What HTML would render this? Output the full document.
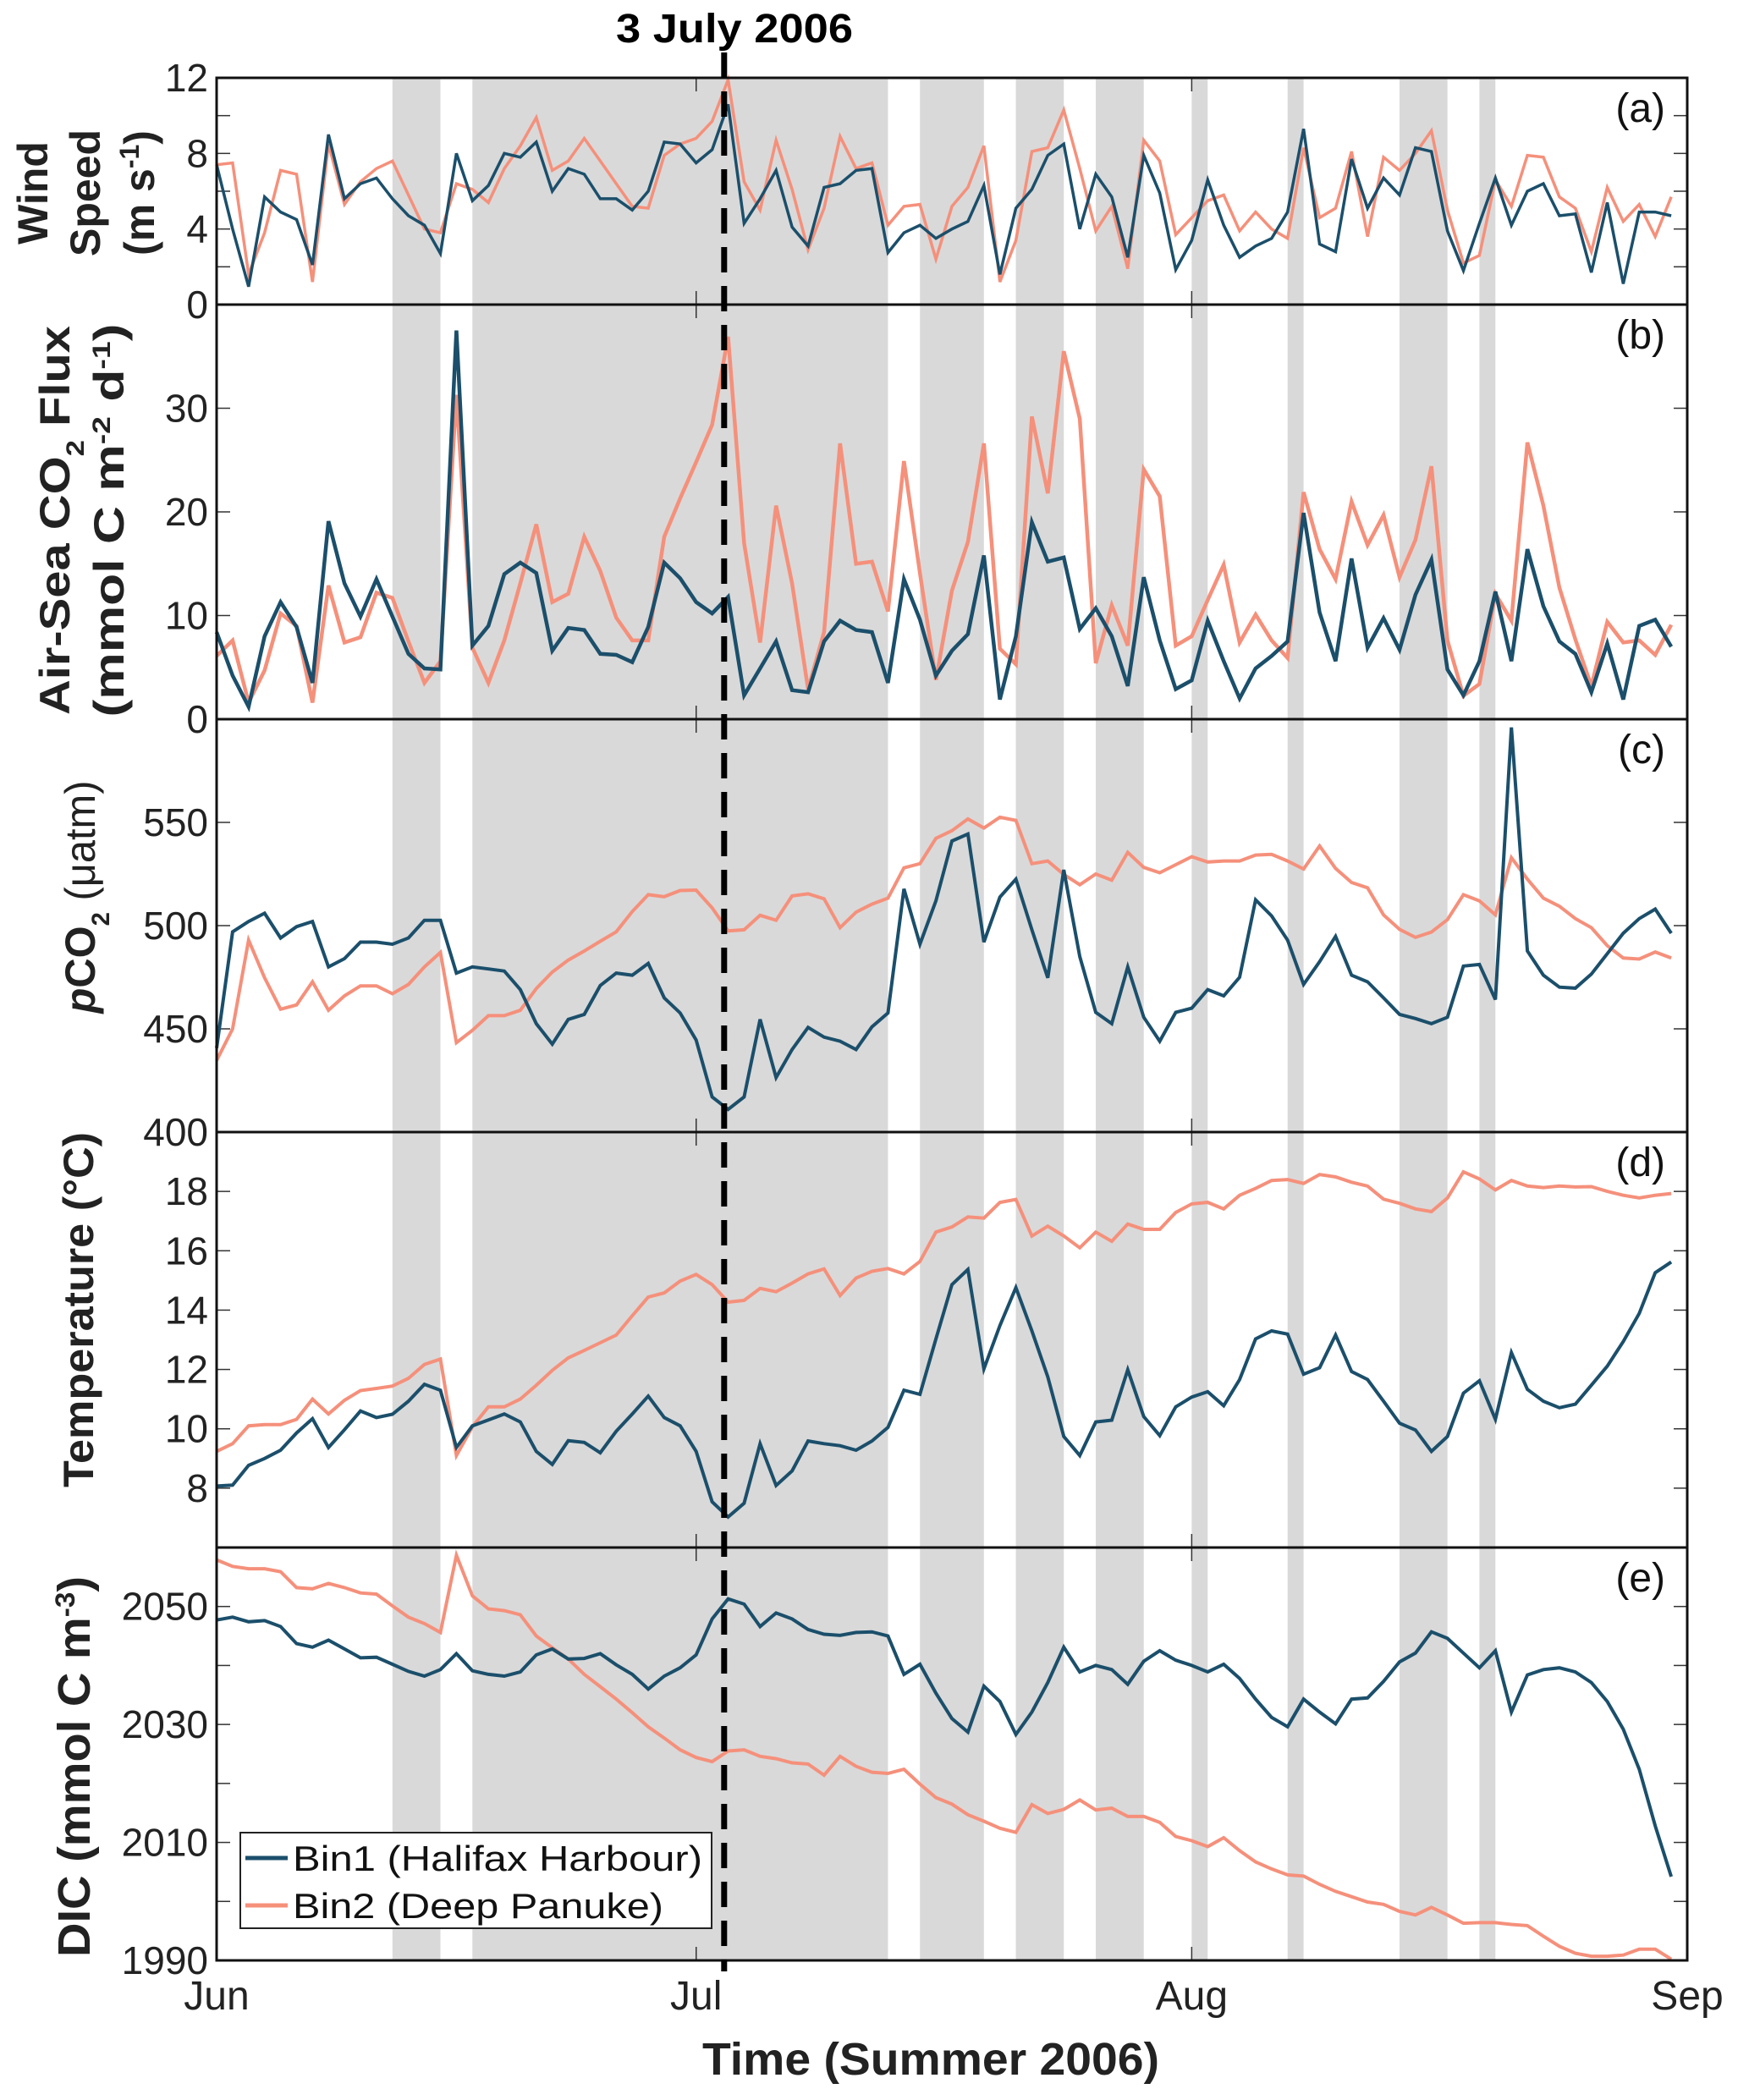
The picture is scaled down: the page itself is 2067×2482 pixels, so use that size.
<!DOCTYPE html>
<html><head><meta charset="utf-8"><style>
html,body{margin:0;padding:0;background:#fff;}
svg{display:block;font-family:"Liberation Sans",sans-serif;}
</style></head><body>
<svg id="chart" width="2067" height="2482" viewBox="0 0 2067 2482" xmlns="http://www.w3.org/2000/svg"></svg>
<script>
// ---- data (daily, Jun 1 = day 0 ... Aug 31 = day 91) ----
const windBin1 = [7.4,4.0,0.95,5.7,4.9,4.5,2.1,9.0,5.6,6.4,6.7,5.6,4.7,4.2,2.7,8.0,5.5,6.3,8.0,7.8,8.6,6.0,7.2,6.9,5.6,5.6,5.0,6.0,8.6,8.5,7.5,8.2,10.6,4.3,5.6,7.1,4.1,3.1,6.2,6.4,7.1,7.2,2.75,3.8,4.2,3.5,4.0,4.4,6.3,1.6,5.1,6.1,7.9,8.5,4.0,6.9,5.7,2.5,7.9,5.9,1.85,3.4,6.6,4.2,2.5,3.1,3.5,4.9,9.3,3.2,2.8,7.7,5.1,6.7,5.8,8.3,8.1,3.9,1.8,4.3,6.7,4.2,6.0,6.4,4.7,4.8,1.7,5.4,1.1,4.9,4.9,4.7];
const windBin2 = [7.4,7.5,1.6,3.8,7.1,6.9,1.2,8.5,5.3,6.5,7.2,7.6,5.8,4.0,3.8,6.4,6.1,5.4,7.2,8.4,9.9,7.1,7.6,8.8,7.6,6.4,5.2,5.1,7.9,8.5,8.8,9.7,11.9,6.5,5.0,8.7,6.1,2.9,5.1,8.9,7.2,7.5,4.2,5.2,5.3,2.4,5.2,6.2,8.4,1.2,3.4,8.1,8.3,10.3,7.2,3.9,5.2,1.9,8.7,7.6,3.7,4.6,5.5,5.8,3.9,4.9,4.0,3.5,8.3,4.6,5.1,8.1,3.6,7.8,7.1,8.0,9.2,5.0,2.2,2.6,6.6,5.2,7.9,7.8,5.7,5.1,2.8,6.2,4.4,5.3,3.6,5.7];
const fluxBin1 = [8.4,4.2,1.2,8.0,11.3,8.9,3.5,19.1,13.1,9.9,13.5,9.9,6.3,4.9,4.8,37.5,7.1,9.0,14.0,15.1,14.1,6.6,8.8,8.6,6.3,6.2,5.5,8.9,15.1,13.6,11.3,10.2,11.8,2.3,4.9,7.5,2.8,2.6,7.5,9.5,8.6,8.4,3.5,13.5,9.6,4.2,6.6,8.2,15.8,1.9,8.0,19.0,15.2,15.6,8.7,10.7,8.0,3.2,13.7,7.6,2.9,3.75,9.5,5.6,2.0,4.9,6.1,7.5,19.9,10.3,5.6,15.5,6.9,9.75,6.7,12.0,15.4,4.8,2.3,5.6,12.3,5.6,16.4,10.9,7.5,6.3,2.6,7.3,1.9,9.0,9.6,7.0];
const fluxBin2 = [6.1,7.6,1.6,4.7,10.2,9.0,1.6,12.9,7.4,7.9,12.2,11.7,7.5,3.5,5.6,31.3,6.9,3.5,7.6,13.1,18.8,11.3,12.1,17.6,14.3,9.8,7.6,7.6,17.6,21.3,24.8,28.4,36.9,17.0,7.4,20.6,13.1,2.9,8.4,26.6,15.0,15.2,10.4,24.9,14.1,3.8,12.4,17.1,26.6,6.8,5.3,29.2,21.8,35.5,29.0,5.4,11.0,7.1,24.1,21.5,7.1,8.0,11.5,14.9,7.4,10.1,7.6,5.9,21.9,16.4,13.5,21.0,16.8,19.7,13.7,17.3,24.4,7.6,2.25,3.4,12.1,9.5,26.7,20.6,12.7,7.7,3.2,9.4,7.4,7.6,6.2,9.1];
const pco2Bin1 = [440.7,497,502,506,494,499.5,502,480,484,492,492,491,494,502.6,502.6,477,480,479,478,469,452.5,442.6,454.6,457,471,477,476,481.7,465,457.7,444.6,417,411,417,454.6,426.4,440,450.7,446,444,440,451,457.7,517.8,491,512,541,544.4,492,513.8,522.5,498,474.7,527,485,458,452.5,480,455.6,444,458,460,469,466,475,512.5,504.7,493,471.5,482.5,494.8,476,472.8,465,457,455,452.5,455.6,480.4,481.2,464.2,596,487.7,476,470.2,469.7,476.5,486.4,496.3,503.4,508,496.3];
const pco2Bin2 = [434.7,450,493,474.7,459.5,461.6,472.8,459,466,470.8,470.8,467,471.5,480,487,443.3,449.3,456.4,456.4,459,469.5,477.5,483.3,487.7,492.4,497,506.8,515,514,517,517.2,508.6,497.4,498,505,502.6,514.4,515.4,513,499,506.5,510.4,513.3,528,530,542.3,546,551.7,547.3,552.5,551,530,531.3,524.8,519.8,525,522,535.5,528.2,525.6,529.5,533.4,530.8,531.3,531.3,534.2,534.5,531.3,527.4,538.6,527.7,520.9,518.3,505.2,498.2,494.3,496.9,502.9,515,512,505.2,532.9,522.5,513.3,509.4,503.4,499,490.3,484.3,483.8,487.2,484.3];
const tempBin1 = [8.07,8.1,8.77,9.0,9.28,9.86,10.34,9.37,9.97,10.6,10.38,10.49,10.93,11.5,11.3,9.37,10.1,10.3,10.5,10.23,9.24,8.8,9.6,9.54,9.19,9.92,10.5,11.1,10.38,10.1,9.24,7.54,7.03,7.49,9.5,8.09,8.58,9.59,9.5,9.43,9.28,9.59,10.05,11.3,11.16,13.03,14.86,15.37,12.02,13.48,14.76,13.3,11.75,9.74,9.1,10.23,10.29,11.99,10.41,9.77,10.74,11.07,11.25,10.78,11.66,13.03,13.3,13.19,11.84,12.06,13.16,11.93,11.66,10.93,10.19,9.96,9.24,9.74,11.2,11.62,10.32,12.57,11.33,10.93,10.71,10.83,11.47,12.11,12.94,13.89,15.26,15.62];
const tempBin2 = [9.24,9.5,10.1,10.14,10.14,10.32,11.0,10.5,10.96,11.29,11.36,11.44,11.7,12.17,12.35,9.1,10.07,10.74,10.74,11.0,11.47,11.97,12.39,12.64,12.9,13.16,13.81,14.44,14.58,14.98,15.2,14.86,14.27,14.33,14.73,14.62,14.91,15.22,15.39,14.49,15.08,15.31,15.4,15.22,15.64,16.63,16.8,17.14,17.1,17.63,17.73,16.5,16.83,16.5,16.1,16.63,16.32,16.9,16.72,16.72,17.29,17.58,17.63,17.41,17.87,18.1,18.37,18.4,18.27,18.57,18.49,18.31,18.18,17.74,17.6,17.41,17.32,17.78,18.66,18.42,18.05,18.37,18.18,18.13,18.18,18.15,18.16,18.0,17.87,17.78,17.87,17.93];
const dicBin1 = [2047.7,2048.2,2047.4,2047.6,2046.6,2043.7,2043.1,2044.3,2042.8,2041.3,2041.4,2040.2,2039.0,2038.2,2039.3,2042,2039.1,2038.5,2038.2,2038.9,2041.8,2042.8,2041.1,2041.2,2042,2040.1,2038.5,2036,2038.2,2039.6,2041.8,2047.9,2051.3,2050.4,2046.6,2048.9,2047.9,2046.1,2045.3,2045.1,2045.6,2045.7,2045,2038.5,2040.2,2035.3,2031,2028.7,2036.5,2033.9,2028.3,2032.1,2037.1,2043.1,2038.9,2040,2039.3,2036.8,2040.7,2042.5,2040.9,2040,2038.9,2040.2,2037.8,2034.3,2031.2,2029.6,2034.3,2032.1,2030.1,2034.3,2034.5,2037.3,2040.6,2042.1,2045.7,2044.6,2042.1,2039.6,2042.5,2032.1,2038.4,2039.3,2039.6,2038.9,2037.1,2033.9,2029.2,2022.4,2012.8,2004.2];
const dicBin2 = [2057.9,2056.8,2056.4,2056.4,2055.9,2053.2,2053,2053.9,2053.2,2052.3,2052.1,2050.1,2048.2,2047.1,2045.6,2058.7,2051.8,2049.6,2049.3,2048.6,2045,2043,2041.1,2038.5,2036.4,2034.3,2032,2029.6,2027.7,2025.7,2024.4,2023.7,2025.5,2025.7,2024.6,2024.2,2023.5,2023.3,2021.4,2024.6,2022.9,2021.9,2021.7,2022.4,2019.9,2017.6,2016.5,2014.7,2013.6,2012.4,2011.7,2016.4,2014.9,2015.6,2017.2,2015.5,2015.8,2014.4,2014.4,2013.4,2011,2010.3,2009.3,2010.8,2008.6,2006.7,2005.5,2004.5,2004.3,2002.9,2001.7,2000.8,1999.9,1999.5,1998.3,1997.7,1999,1997.7,1996.3,1996.4,1996.4,1996.1,1995.9,1994.1,1992.4,1991.2,1990.7,1990.7,1990.9,1991.9,1991.9,1990.2];
const shadeStart = [11,16,44,50,55,61,67,74,79];
const shadeEnd   = [14,42,48,53,58,62,68,77,80];
const monthLabels = ["Jun","Jul","Aug","Sep"];
const monthDays = [0,30,61,92];
const eventDay = 31.75;
const eventLabel = "3 July 2006";
const windTicks = [0,2,4,6,8,10,12], windLabels = [0,4,8,12];
const fluxTicks = [0,10,20,30], fluxLabels = [0,10,20,30];
const pco2Ticks = [400,450,500,550], pco2Labels = [400,450,500,550];
const tempTicks = [8,10,12,14,16,18], tempLabels = [8,10,12,14,16,18];
const dicTicks = [1990,2000,2010,2020,2030,2040,2050], dicLabels = [1990,2010,2030,2050];

const NS = "http://www.w3.org/2000/svg";
const svg = document.getElementById('chart');
const L = 256, R = 1994, DAYS = 92;
const BLUE = "#1b4f6b", ORANGE = "#f5907b";
const xs = d => L + d / DAYS * (R - L);
function el(tag, attrs, parent) {
  const e = document.createElementNS(NS, tag);
  for (const k in attrs) e.setAttribute(k, attrs[k]);
  (parent || svg).appendChild(e);
  return e;
}
const panels = [
  {id:'a', top:92, bot:360, min:0, max:12, ticks:windTicks, labels:windLabels, b1:windBin1, b2:windBin2, lw:3.5},
  {id:'b', top:360, bot:850, min:0, max:40, ticks:fluxTicks, labels:fluxLabels, b1:fluxBin1, b2:fluxBin2, lw:4.5},
  {id:'c', top:850, bot:1338, min:400, max:600, ticks:pco2Ticks, labels:pco2Labels, b1:pco2Bin1, b2:pco2Bin2, lw:4},
  {id:'d', top:1338, bot:1829, min:6, max:20, ticks:tempTicks, labels:tempLabels, b1:tempBin1, b2:tempBin2, lw:4},
  {id:'e', top:1829, bot:2317, min:1990, max:2060, ticks:dicTicks, labels:dicLabels, b1:dicBin1, b2:dicBin2, lw:4}
];
// shading
const shadeG = el('g', {});


for (let i = 0; i < shadeStart.length; i++) {
  const r = el('rect', {x: xs(shadeStart[i]), y: 92, width: xs(shadeEnd[i]) - xs(shadeStart[i]), height: 2317 - 92, fill: '#d9d9d9'}, shadeG);
  
  
}
panels.forEach(p => {
  const g = el('g', {});
  
  
  const ys = v => p.bot - (v - p.min) / (p.max - p.min) * (p.bot - p.top);
  // ticks
  p.ticks.forEach(t => {
    const y = ys(t);
    el('line', {x1: L, x2: L + 16, y1: y, y2: y, stroke: '#333', 'stroke-width': 1.5}, g);
    el('line', {x1: R - 16, x2: R, y1: y, y2: y, stroke: '#333', 'stroke-width': 1.5}, g);
  });
  [30, 61].forEach(d => {
    el('line', {x1: xs(d), x2: xs(d), y1: p.top, y2: p.top + 16, stroke: '#333', 'stroke-width': 1.5}, g);
    el('line', {x1: xs(d), x2: xs(d), y1: p.bot - 16, y2: p.bot, stroke: '#333', 'stroke-width': 1.5}, g);
  });
  p.labels.forEach(t => {
    const tx = el('text', {x: 246, y: ys(t) + 16, 'text-anchor': 'end', 'font-size': 46, fill: '#222'}, g);
    tx.textContent = t;
    
    
  });
  [[p.b2, ORANGE, 'bin2'], [p.b1, BLUE, 'bin1']].forEach(([arr, col, nm]) => {
    const pts = arr.map((v, i) => xs(i).toFixed(1) + ',' + ys(v).toFixed(1)).join(' ');
    const pl = el('polyline', {points: pts, fill: 'none', stroke: col, 'stroke-width': p.lw, 'stroke-linejoin': 'miter'}, g);
    
    
  });
  const lab = el('text', {x: 1968, y: p.top + 52, 'text-anchor': 'end', 'font-size': 48, fill: '#111'}, g);
  lab.textContent = '(' + p.id + ')';
  
  
  el('rect', {x: L, y: p.top, width: R - L, height: p.bot - p.top, fill: 'none', stroke: '#111', 'stroke-width': 3}, g);
});
// event line
const ev = el('line', {x1: xs(eventDay), x2: xs(eventDay), y1: 62, y2: 2330, stroke: '#000', 'stroke-width': 7, 'stroke-dasharray': '30,16'});


const evt = el('text', {x: 868, y: 50, 'text-anchor': 'middle', 'font-size': 48, 'font-weight': 'bold', textLength: 280, lengthAdjust: 'spacingAndGlyphs'});
evt.textContent = eventLabel;


// month labels
monthLabels.forEach((m, i) => {
  const t = el('text', {x: xs(monthDays[i]), y: 2375, 'text-anchor': 'middle', 'font-size': 48, fill: '#222'});
  t.textContent = m;
  
  
});
</script>
<svg width="0" height="0" style="position:absolute"></svg>
<div style="position:absolute;left:0;top:0;width:2067px;height:2482px;pointer-events:none">
<svg width="2067" height="2482" style="position:absolute;left:0;top:0">
  <g font-family="Liberation Sans, sans-serif" font-weight="bold" fill="#222">
    <text x="1100" y="2452" text-anchor="middle" font-size="54" textLength="540" lengthAdjust="spacingAndGlyphs">Time (Summer 2006)</text>
    <g font-size="50" text-anchor="middle">
      <text transform="translate(56,228) rotate(-90)">Wind</text>
      <text transform="translate(118,228) rotate(-90)">Speed</text>
      <text transform="translate(182,228) rotate(-90)">(m s<tspan baseline-shift="super" font-size="32">-1</tspan>)</text>
    </g>
    <g font-size="50" text-anchor="middle">
      <text transform="translate(82,615) rotate(-90)" textLength="460" lengthAdjust="spacingAndGlyphs">Air-Sea CO<tspan baseline-shift="sub" font-size="30">2</tspan> Flux</text>
      <text transform="translate(146,615) rotate(-90)" textLength="465" lengthAdjust="spacingAndGlyphs">(mmol C m<tspan baseline-shift="super" font-size="30">-2</tspan> d<tspan baseline-shift="super" font-size="30">-1</tspan>)</text>
    </g>
    <text transform="translate(112,1060) rotate(-90)" font-size="50" text-anchor="middle" textLength="275" lengthAdjust="spacingAndGlyphs"><tspan font-style="italic">p</tspan>CO<tspan baseline-shift="sub" font-size="30">2</tspan><tspan font-weight="normal"> (μatm)</tspan></text>
    <text transform="translate(110,1548) rotate(-90)" font-size="50" text-anchor="middle" textLength="420" lengthAdjust="spacingAndGlyphs">Temperature (°C)</text>
    <text transform="translate(106,2088) rotate(-90)" font-size="54" text-anchor="middle" textLength="450" lengthAdjust="spacingAndGlyphs">DIC (mmol C m<tspan baseline-shift="super" font-size="32">-3</tspan>)</text>
  </g>
  <g>
    <rect x="284" y="2166" width="557" height="113" fill="#fff" stroke="#222" stroke-width="2"/>
    <line x1="290" x2="340" y1="2196" y2="2196" stroke="#1b4f6b" stroke-width="5"/>
    <text x="346" y="2211" font-size="42" font-family="Liberation Sans, sans-serif" fill="#111" textLength="484" lengthAdjust="spacingAndGlyphs">Bin1 (Halifax Harbour)</text>
    <line x1="290" x2="340" y1="2252" y2="2252" stroke="#f5907b" stroke-width="5"/>
    <text x="346" y="2267" font-size="42" font-family="Liberation Sans, sans-serif" fill="#111" textLength="438" lengthAdjust="spacingAndGlyphs">Bin2 (Deep Panuke)</text>
  </g>
</svg>
</div>
</body></html>
